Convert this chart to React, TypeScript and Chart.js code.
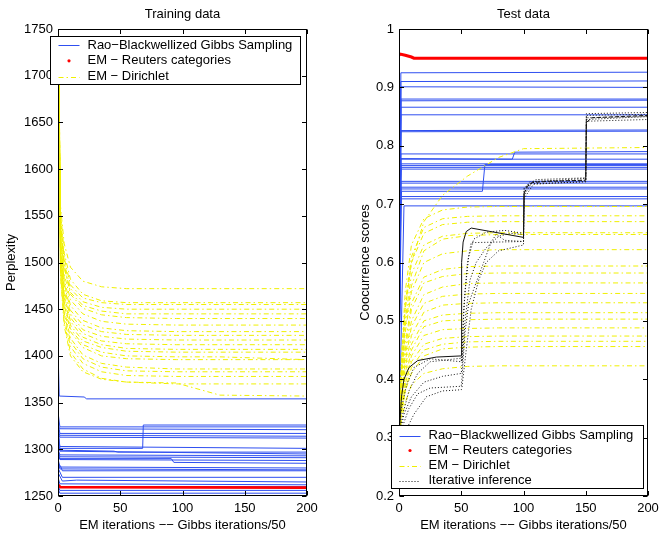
import { useEffect, useRef } from "react";
import { Chart, registerables } from "chart.js";
import type { ChartConfiguration, Plugin } from "chart.js";

Chart.register(...registerables);

const FONT_FAMILY = '"Liberation Sans", Arial, Helvetica, sans-serif';
Chart.defaults.font.family = FONT_FAMILY;
Chart.defaults.color = "#000";

const BLUE = "#2f4ff0";
const RED = "#ff0000";
const YELLOW = "#f0f000";
const BLACK = "#111111";
const DASHDOT = [5, 3, 1.5, 3];
const DOTTED = [1, 2];
const DASHED = [4, 2];

// axes
const xTicks = [0, 50, 100, 150, 200];
const trainYTicks = [1250, 1300, 1350, 1400, 1450, 1500, 1550, 1600, 1650, 1700, 1750];
const testYTicks = [0.2, 0.3, 0.4, 0.5, 0.6, 0.7, 0.8, 0.9, 1];
const xLabel = "EM iterations \u2212\u2212 Gibbs iterations/50";

// ---- training data (perplexity) ----
// Rao-Blackwellized Gibbs runs, [iteration, perplexity]
const trainGibbs: number[][][] = [
  [[0, 1408], [1, 1357], [21, 1356], [23, 1354], [200, 1354]],
  [[0, 1330], [1.5, 1301], [68, 1301], [68.5, 1326], [200, 1326]],
  [[0, 1340], [1.5, 1324], [200, 1324]],
  [[0, 1325], [1.5, 1322], [200, 1321]],
  [[0, 1330], [1.5, 1317], [200, 1317]],
  [[0, 1320], [1.5, 1315], [200, 1314]],
  [[0, 1318], [1.5, 1313], [200, 1312]],
  [[0, 1315], [1.5, 1303], [200, 1301]],
  [[0, 1310], [1.5, 1299], [45, 1298], [48, 1297], [200, 1297]],
  [[0, 1305], [1.5, 1298], [200, 1295]],
  [[0, 1300], [1.5, 1294], [200, 1293]],
  [[0, 1300], [1.5, 1292], [200, 1291]],
  [[0, 1298], [1.5, 1290], [91, 1290], [93, 1286], [200, 1285]],
  [[0, 1295], [1.5, 1289], [200, 1288]],
  [[0, 1290], [1.5, 1281], [200, 1280]],
  [[0, 1288], [1.5, 1279], [200, 1278]],
  [[0, 1285], [2, 1282], [3.5, 1277], [200, 1277]],
  [[0, 1280], [3.5, 1270], [200, 1270]],
  [[0, 1275], [3.5, 1266], [15, 1267], [200, 1265]],
  [[0, 1270], [1.5, 1263], [200, 1262]],
  [[0, 1265], [1.5, 1260], [200, 1260]],
  [[0, 1262], [1.5, 1256], [200, 1256]],
  [[0, 1258], [1.5, 1253], [200, 1253]],
];
const trainEm: number[][] = [[0, 1262], [2, 1259.5], [200, 1259]];
const trainDirX = [0, 2, 5, 10, 20, 35, 55, 95, 130, 200];
const trainDirY: number[][] = [
  [1790, 1560, 1520, 1495, 1480, 1474, 1472, 1472, 1472, 1472],
  [1780, 1555, 1510, 1482, 1466, 1459, 1457, 1457, 1457, 1457],
  [1770, 1545, 1505, 1476, 1462, 1457, 1455, 1455, 1455, 1455],
  [1800, 1550, 1500, 1472, 1458, 1452, 1450, 1450, 1450, 1450],
  [1775, 1542, 1497, 1468, 1454, 1448, 1445, 1445, 1445, 1445],
  [1760, 1540, 1495, 1466, 1451, 1444, 1441, 1440, 1440, 1440],
  [1790, 1538, 1488, 1460, 1445, 1437, 1434, 1433, 1433, 1433],
  [1780, 1532, 1482, 1454, 1438, 1430, 1427, 1426, 1426, 1426],
  [1770, 1528, 1478, 1449, 1433, 1426, 1423, 1422, 1422, 1422],
  [1800, 1525, 1475, 1445, 1428, 1421, 1418, 1417, 1417, 1417],
  [1760, 1520, 1470, 1441, 1424, 1416, 1413, 1412, 1412, 1412],
  [1790, 1516, 1466, 1437, 1420, 1412, 1408, 1407, 1407, 1407],
  [1770, 1512, 1462, 1433, 1416, 1409, 1405, 1404, 1404, 1404],
  [1780, 1508, 1458, 1429, 1412, 1404, 1400, 1399, 1399, 1396],
  [1760, 1505, 1455, 1426, 1409, 1400, 1397, 1396, 1396, 1396],
  [1790, 1500, 1450, 1419, 1401, 1392, 1388, 1386, 1386, 1386],
  [1770, 1496, 1446, 1415, 1397, 1388, 1384, 1383, 1383, 1383],
  [1780, 1492, 1441, 1410, 1392, 1383, 1379, 1378, 1378, 1378],
  [1760, 1488, 1436, 1404, 1386, 1376, 1372, 1370, 1370, 1370],
  [1790, 1485, 1432, 1400, 1383, 1375, 1372, 1371, 1358, 1357],
];

// ---- test data (cooccurrence scores) ----
const testGibbs: number[][][] = [
  [[0, 0.36], [1.5, 0.925], [200, 0.926]],
  [[0, 0.34], [1.5, 0.91], [200, 0.911]],
  [[0, 0.33], [1.5, 0.901], [200, 0.9]],
  [[0, 0.38], [1.5, 0.88], [200, 0.88]],
  [[0, 0.4], [1.5, 0.877], [200, 0.878]],
  [[0, 0.35], [1.5, 0.866], [200, 0.866]],
  [[0, 0.31], [1.5, 0.853], [200, 0.853]],
  [[0, 0.42], [1.5, 0.826], [200, 0.827]],
  [[0, 0.37], [1.5, 0.824], [200, 0.825]],
  [[0, 0.45], [1.5, 0.778], [91, 0.777], [93, 0.789], [200, 0.79]],
  [[0, 0.44], [1.5, 0.786], [200, 0.786]],
  [[0, 0.47], [1.5, 0.777], [200, 0.777]],
  [[0, 0.48], [1.5, 0.769], [200, 0.769]],
  [[0, 0.5], [1.5, 0.766], [200, 0.766]],
  [[0, 0.46], [1.5, 0.763], [200, 0.763]],
  [[0, 0.52], [1.5, 0.76], [200, 0.76]],
  [[0, 0.43], [2, 0.722], [67, 0.722], [69, 0.768], [200, 0.768]],
  [[0, 0.49], [1.5, 0.739], [200, 0.739]],
  [[0, 0.51], [1.5, 0.736], [200, 0.736]],
  [[0, 0.53], [1.5, 0.729], [200, 0.729]],
  [[0, 0.55], [1.5, 0.726], [200, 0.726]],
  [[0, 0.39], [1.5, 0.713], [200, 0.713]],
  [[0, 0.41], [1.5, 0.709], [200, 0.709]],
  [[0, 0.3], [3, 0.6], [4, 0.697], [200, 0.697]],
];
const testEm: number[][] = [[0, 0.955], [1, 0.957], [5, 0.955], [10, 0.952], [12, 0.95], [200, 0.95]];
const testDirX = [0, 2, 5, 10, 20, 35, 55, 80, 100, 200];
const testDirY: number[][] = [
  [0.31, 0.42, 0.52, 0.6, 0.67, 0.715, 0.748, 0.78, 0.795, 0.797],
  [0.3, 0.44, 0.55, 0.63, 0.675, 0.69, 0.695, 0.696, 0.696, 0.696],
  [0.31, 0.43, 0.53, 0.61, 0.66, 0.675, 0.679, 0.68, 0.68, 0.68],
  [0.3, 0.42, 0.52, 0.6, 0.65, 0.665, 0.669, 0.67, 0.67, 0.67],
  [0.32, 0.41, 0.5, 0.58, 0.63, 0.645, 0.65, 0.651, 0.651, 0.651],
  [0.3, 0.4, 0.49, 0.56, 0.62, 0.64, 0.646, 0.648, 0.648, 0.648],
  [0.31, 0.4, 0.48, 0.55, 0.6, 0.615, 0.62, 0.622, 0.622, 0.622],
  [0.3, 0.39, 0.46, 0.53, 0.575, 0.588, 0.593, 0.594, 0.594, 0.594],
  [0.32, 0.38, 0.45, 0.52, 0.565, 0.576, 0.581, 0.582, 0.582, 0.582],
  [0.3, 0.38, 0.44, 0.5, 0.545, 0.558, 0.564, 0.565, 0.565, 0.565],
  [0.31, 0.37, 0.43, 0.49, 0.53, 0.542, 0.546, 0.547, 0.547, 0.547],
  [0.3, 0.37, 0.42, 0.475, 0.515, 0.527, 0.53, 0.531, 0.531, 0.531],
  [0.31, 0.36, 0.41, 0.46, 0.5, 0.51, 0.513, 0.514, 0.514, 0.514],
  [0.3, 0.36, 0.4, 0.45, 0.49, 0.5, 0.502, 0.503, 0.503, 0.503],
  [0.31, 0.35, 0.39, 0.44, 0.475, 0.485, 0.487, 0.488, 0.488, 0.488],
  [0.3, 0.35, 0.39, 0.43, 0.46, 0.47, 0.473, 0.474, 0.474, 0.474],
  [0.31, 0.34, 0.38, 0.42, 0.45, 0.46, 0.464, 0.465, 0.465, 0.465],
  [0.3, 0.34, 0.38, 0.41, 0.44, 0.452, 0.455, 0.456, 0.456, 0.456],
  [0.3, 0.33, 0.36, 0.39, 0.41, 0.418, 0.422, 0.423, 0.423, 0.423],
];
const testIterSolid: number[][] = [
  [0, 0.3], [2, 0.37], [4, 0.4], [8, 0.42], [15, 0.432], [30, 0.438], [50, 0.44],
  [50.3, 0.6], [51.5, 0.635], [54, 0.653], [58, 0.659], [100, 0.643], [100.5, 0.718],
];
const testIterDashed: number[][] = [
  [100.5, 0.718], [103, 0.73], [107, 0.737], [120, 0.739], [150, 0.741],
  [150.5, 0.84], [155, 0.848], [200, 0.852],
];
const testIterDotted: number[][][] = [
  [[0, 0.3], [3, 0.34], [8, 0.38], [15, 0.41], [25, 0.43], [50, 0.436], [50.5, 0.43], [52, 0.52], [55, 0.6], [58, 0.634], [100, 0.636], [100.5, 0.72], [104, 0.733], [110, 0.739], [150, 0.741], [150.5, 0.842], [200, 0.845]],
  [[0, 0.29], [3, 0.32], [8, 0.35], [15, 0.375], [25, 0.385], [50, 0.388], [50.5, 0.4], [53, 0.48], [56, 0.53], [61, 0.56], [68, 0.6], [74, 0.635], [78, 0.648], [85, 0.638], [100, 0.636], [100.5, 0.715], [106, 0.735], [150, 0.738], [150.5, 0.848], [200, 0.85]],
  [[0, 0.3], [4, 0.34], [10, 0.37], [20, 0.395], [35, 0.405], [50, 0.41], [50.5, 0.42], [53, 0.5], [57, 0.57], [62, 0.6], [70, 0.625], [80, 0.645], [90, 0.65], [100, 0.648], [100.5, 0.725], [105, 0.738], [150, 0.744], [150.5, 0.852], [200, 0.854]],
  [[0, 0.31], [2, 0.35], [6, 0.39], [12, 0.42], [25, 0.435], [50, 0.43], [50.5, 0.45], [53, 0.55], [56, 0.61], [60, 0.64], [70, 0.652], [85, 0.655], [100, 0.65], [100.5, 0.728], [110, 0.742], [150, 0.745], [150.5, 0.855], [200, 0.857]],
  [[0, 0.29], [5, 0.31], [12, 0.34], [22, 0.37], [35, 0.38], [50, 0.382], [50.5, 0.385], [54, 0.45], [58, 0.52], [64, 0.57], [70, 0.6], [80, 0.62], [100, 0.63], [100.5, 0.71], [108, 0.734], [150, 0.739], [150.5, 0.845], [200, 0.85]],
];

const legendGibbs = "Rao\u2212Blackwellized Gibbs Sampling";
const legendEm = "EM \u2212 Reuters categories";
const legendDir = "EM \u2212 Dirichlet";
const legendIter = "Iterative inference";

const zipRun = (xs: number[], ys: number[]) => xs.map((x, i) => [x, ys[i]]);

function line(points: number[][], color: string, width: number, dash: number[], order: number) {
  return {
    data: points.map(([x, y]) => ({ x, y })),
    borderColor: color,
    borderWidth: width,
    borderDash: dash,
    pointRadius: 0,
    pointHoverRadius: 0,
    tension: 0,
    fill: false,
    order,
  };
}

// MATLAB style box with inward ticks on all four sides
const axesBox: Plugin = {
  id: "axesBox",
  afterDraw(chart) {
    const { ctx, chartArea: a, scales } = chart;
    const L = Math.round(a.left) + 0.5;
    const R = Math.round(a.right) - 0.5;
    const T = Math.round(a.top) + 0.5;
    const B = Math.round(a.bottom) - 0.5;
    const len = 4.5;
    ctx.save();
    ctx.strokeStyle = "#000";
    ctx.lineWidth = 1;
    ctx.strokeRect(L, T, R - L, B - T);
    ctx.beginPath();
    scales.x.ticks.forEach((t) => {
      const px = Math.round(scales.x.getPixelForValue(t.value)) + 0.5;
      ctx.moveTo(px, B);
      ctx.lineTo(px, B - len);
      ctx.moveTo(px, T);
      ctx.lineTo(px, T + len);
    });
    scales.y.ticks.forEach((t) => {
      const py = Math.round(scales.y.getPixelForValue(t.value)) + 0.5;
      ctx.moveTo(L, py);
      ctx.lineTo(L + len, py);
      ctx.moveTo(R, py);
      ctx.lineTo(R - len, py);
    });
    ctx.stroke();
    ctx.restore();
  },
};

interface LegendItem {
  label: string;
  color: string;
  dash?: number[];
  dot?: boolean;
}

interface LegendSpec {
  anchor: "top" | "bottom";
  dx0: number;
  dx1: number;
  dy: number;
  firstRow: number;
  rowH: number;
  lastPad: number;
  items: LegendItem[];
}

function boxLegend(spec: LegendSpec): Plugin {
  return {
    id: "boxLegend",
    afterDraw(chart) {
      const { ctx, chartArea: a } = chart;
      const n = spec.items.length;
      const h = Math.round(spec.firstRow + (n - 1) * spec.rowH + spec.lastPad);
      const x0 = Math.round(a.left + spec.dx0) + 0.5;
      const x1 = Math.round(a.right + spec.dx1) + 0.5;
      const y0 =
        Math.round(spec.anchor === "top" ? a.top + spec.dy : a.bottom - spec.dy - h) + 0.5;
      ctx.save();
      ctx.fillStyle = "#fff";
      ctx.fillRect(x0, y0, x1 - x0, h);
      ctx.strokeStyle = "#000";
      ctx.lineWidth = 1;
      ctx.strokeRect(x0, y0, x1 - x0, h);
      ctx.font = `13px ${FONT_FAMILY}`;
      ctx.textBaseline = "middle";
      ctx.textAlign = "left";
      spec.items.forEach((it, i) => {
        const y = y0 + spec.firstRow + i * spec.rowH;
        if (it.dot) {
          ctx.fillStyle = it.color;
          ctx.beginPath();
          ctx.arc(x0 + 18.5, y, 1.6, 0, Math.PI * 2);
          ctx.fill();
        } else {
          const ly = Math.round(y) + 0.5;
          ctx.strokeStyle = it.color;
          ctx.setLineDash(it.dash || []);
          ctx.beginPath();
          ctx.moveTo(x0 + 8, ly);
          ctx.lineTo(x0 + 29, ly);
          ctx.stroke();
          ctx.setLineDash([]);
        }
        ctx.fillStyle = "#000";
        ctx.fillText(it.label, x0 + 37, y);
      });
      ctx.restore();
    },
  };
}

interface PanelSpec {
  title: string;
  yLabel: string;
  yMin: number;
  yMax: number;
  yTicks: number[];
  axisWidth: number;
  rightPad: number;
  yTitlePad: number;
  datasets: any[];
  legend: LegendSpec;
}

function panelConfig(p: PanelSpec): ChartConfiguration {
  const font = { family: FONT_FAMILY, size: 13, weight: "normal" as const };
  return {
    type: "line",
    data: { datasets: p.datasets },
    options: {
      animation: false,
      responsive: true,
      maintainAspectRatio: false,
      events: [],
      layout: { padding: { top: 0, right: p.rightPad, bottom: 0, left: 0 } },
      plugins: {
        legend: { display: false },
        tooltip: { enabled: false },
        title: {
          display: true,
          text: p.title,
          fullSize: false,
          color: "#000",
          font,
          padding: { top: 6.5, bottom: 6.9 },
        },
      },
      scales: {
        x: {
          type: "linear",
          min: 0,
          max: 200,
          afterBuildTicks: (s: any) => {
            s.ticks = xTicks.map((value) => ({ value }));
          },
          afterFit: (s: any) => {
            s.height = 37;
          },
          grid: { display: false, drawTicks: false },
          border: { display: false },
          ticks: {
            autoSkip: false,
            maxRotation: 0,
            padding: 5,
            color: "#000",
            font,
            callback: (v: any) => String(v),
          },
          title: {
            display: true,
            text: xLabel,
            color: "#000",
            font,
            padding: { top: 4.2, bottom: 0 },
          },
        },
        y: {
          type: "linear",
          min: p.yMin,
          max: p.yMax,
          afterBuildTicks: (s: any) => {
            s.ticks = p.yTicks.map((value) => ({ value }));
          },
          afterFit: (s: any) => {
            s.width = p.axisWidth;
          },
          grid: { display: false, drawTicks: false },
          border: { display: false },
          ticks: {
            autoSkip: false,
            padding: 5,
            color: "#000",
            font,
            callback: (v: any) => String(v),
          },
          title: {
            display: true,
            text: p.yLabel,
            color: "#000",
            font,
            padding: { top: p.yTitlePad, bottom: 0 },
          },
        },
      },
    },
    plugins: [axesBox, boxLegend(p.legend)],
  } as ChartConfiguration;
}

function trainingConfig(): ChartConfiguration {
  const datasets = [
    ...trainGibbs.map((r) => line(r, BLUE, 1, [], 3)),
    ...trainDirY.map((ys) => line(zipRun(trainDirX, ys), YELLOW, 1, DASHDOT, 2)),
    line(trainEm, RED, 2.7, [], 1),
  ];
  return panelConfig({
    title: "Training data",
    yLabel: "Perplexity",
    yMin: 1250,
    yMax: 1750,
    yTicks: trainYTicks,
    axisWidth: 58,
    rightPad: 25,
    yTitlePad: 3.2,
    datasets,
    legend: {
      anchor: "top",
      dx0: -8,
      dx1: -7,
      dy: 7,
      firstRow: 8.6,
      rowH: 15.7,
      lastPad: 8.4,
      items: [
        { label: legendGibbs, color: BLUE, dash: [] },
        { label: legendEm, color: RED, dot: true },
        { label: legendDir, color: YELLOW, dash: DASHDOT },
      ],
    },
  });
}

function testConfig(): ChartConfiguration {
  const datasets = [
    ...testGibbs.map((r) => line(r, BLUE, 1, [], 3)),
    ...testDirY.map((ys) => line(zipRun(testDirX, ys), YELLOW, 1, DASHDOT, 2)),
    line(testEm, RED, 3, [], 1),
    ...testIterDotted.map((r) => line(r, BLACK, 1, DOTTED, 0)),
    line(testIterSolid, BLACK, 1, [], 0),
    line(testIterDashed, BLACK, 1, DASHED, 0),
  ];
  return panelConfig({
    title: "Test data",
    yLabel: "Coocurrence scores",
    yMin: 0.2,
    yMax: 1,
    yTicks: testYTicks,
    axisWidth: 67,
    rightPad: 16,
    yTitlePad: 25.7,
    datasets,
    legend: {
      anchor: "bottom",
      dx0: -8,
      dx1: -5,
      dy: 8,
      firstRow: 10,
      rowH: 15,
      lastPad: 8.3,
      items: [
        { label: legendGibbs, color: BLUE, dash: [] },
        { label: legendEm, color: RED, dot: true },
        { label: legendDir, color: YELLOW, dash: DASHDOT },
        { label: legendIter, color: BLACK, dash: DOTTED },
      ],
    },
  });
}

function Panel({ left, makeConfig }: { left: number; makeConfig: () => ChartConfiguration }) {
  const canvasRef = useRef<HTMLCanvasElement>(null);

  useEffect(() => {
    if (!canvasRef.current) return;
    const chart = new Chart(canvasRef.current, makeConfig());
    return () => {
      chart.destroy();
    };
  }, [makeConfig]);

  return (
    <div style={{ position: "absolute", left, top: 0, width: 332, height: 533 }}>
      <canvas ref={canvasRef}></canvas>
    </div>
  );
}

export default function App() {
  return (
    <div
      style={{
        position: "fixed",
        left: 0,
        top: 0,
        width: 664,
        height: 533,
        background: "#fff",
        overflow: "hidden",
      }}
    >
      <Panel left={0} makeConfig={trainingConfig} />
      <Panel left={332} makeConfig={testConfig} />
    </div>
  );
}
